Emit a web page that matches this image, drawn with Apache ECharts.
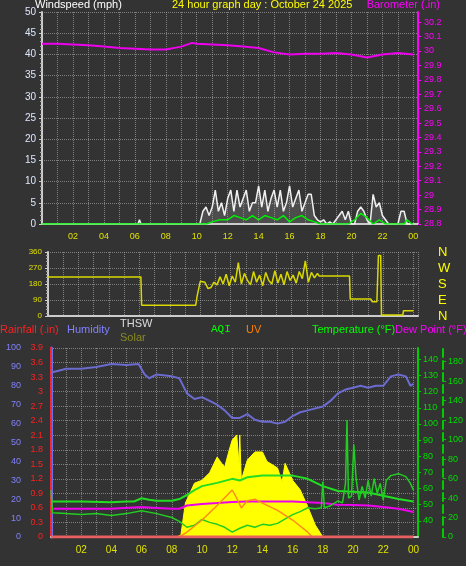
<!DOCTYPE html>
<html>
<head>
<meta charset="UTF-8">
<script src="https://cdn.jsdelivr.net/npm/echarts@6/dist/echarts.min.js"></script>
<style>html,body{margin:0;padding:0;background:#333333;}</style>
</head>
<body>
<div id="main" style="width:466px;height:566px;"></div>
<script>
// hour of day, value
var baro = [[0,30.05],[1,30.05],[2,30.045],[3,30.04],[4,30.03],[5,30.02],[6,30.015],[7,30.01],[8,30.01],[9,30.03],[9.7,30.056],[10,30.05],[11,30.045],[12,30.04],[13,30.03],[14,30.02],[15,29.99],[16,29.975],[17,29.98],[18,29.98],[19,29.985],[20,29.975],[21,29.955],[22,29.975],[23,29.985],[24,29.975]];
var gust = [[0,0],[6.2,0],[6.3,1],[6.4,0],[10.2,0],[10.4,3],[10.6,4],[10.8,2],[11,4],[11.2,8],[11.4,3],[11.6,5],[11.8,2],[12,6],[12.2,8],[12.4,3],[12.6,8],[12.8,4],[13,6],[13.2,8],[13.4,3],[13.6,5],[13.8,5],[14,9],[14.2,4],[14.4,8],[14.6,3],[14.8,6],[15,8],[15.2,4],[15.4,8],[15.6,3],[15.8,5],[16,9],[16.2,4],[16.4,6],[16.6,8],[16.8,3],[17,5],[17.2,7],[17.4,7],[17.6,2],[17.8,1],[18,0.5],[18.2,1],[18.4,0],[18.6,0.5],[18.8,0],[19.4,3],[19.6,1],[19.8,3],[20,0],[20.2,0],[20.4,3],[20.6,4],[20.8,3],[21,1],[21.2,0],[21.4,7],[21.6,4],[21.8,5],[22,2],[22.2,1],[22.4,0],[23,0],[23.2,3],[23.4,3],[23.6,0],[24,0]];
var windAvg = [[0,0],[10.6,0],[11,0.5],[11.5,1],[12,1],[12.4,2],[12.8,1.5],[13.2,1],[13.6,2],[14,1],[14.4,2],[14.8,1.5],[15.2,1],[15.6,2],[16,0.5],[16.4,1.5],[16.8,2],[17.2,1],[17.6,0.5],[18,0],[19.8,0],[20.2,1],[20.6,2.5],[21,1.5],[21.4,0],[21.8,1],[22.2,0],[23.4,0],[23.6,1],[23.9,0],[24,0]];
var windDir = [[0,220],[6.1,220],[6.15,60],[9.7,60],[9.8,115],[10,195],[10.3,190],[10.5,155],[10.7,160],[10.9,190],[11.1,175],[11.3,220],[11.5,180],[11.7,235],[11.9,170],[12.1,225],[12.3,190],[12.5,300],[12.7,180],[12.9,240],[13.1,200],[13.3,175],[13.5,250],[13.7,190],[13.9,230],[14.1,170],[14.3,245],[14.5,200],[14.7,180],[14.9,255],[15.1,185],[15.3,235],[15.5,175],[15.7,250],[15.9,200],[16.1,230],[16.3,185],[16.5,250],[16.7,210],[16.9,310],[17.1,190],[17.3,245],[17.5,215],[17.7,240],[17.8,225],[19.8,225],[19.85,95],[21.2,95],[21.3,80],[21.6,80],[21.7,340],[21.85,340],[21.9,5],[23.3,5],[23.35,30],[24,30]];
var humidity = [[0,87],[0.5,88],[1,89],[2,89],[3,90],[4,91.5],[5,91],[5.8,91.5],[6.2,86],[6.5,84],[7,86],[8,85],[8.5,84],[9,76],[9.5,73],[10,74],[10.5,72],[11,70],[11.5,67],[12,63],[12.5,63],[13,65],[13.5,62],[14,61],[14.5,61],[15,60],[15.5,61],[16,64],[16.5,66],[17,67],[18,69],[18.5,72],[19,76],[19.5,78],[20,79],[20.5,80],[21,79],[21.5,80],[22,80],[22.5,85],[23,86],[23.5,85],[23.8,80],[24,81]];
var temperature = [[0,52],[2,52],[4,51.5],[5,52],[5.5,52],[6,54],[6.5,53],[7,52.5],[8,52.5],[8.5,53.5],[9,56],[9.5,59],[10,61.5],[11,63.5],[12,66],[12.5,65],[13,67],[14,68],[15,68],[16,68],[17,66],[18,61.5],[19,58.5],[20,58],[21,57.5],[22,55.5],[23,53.5],[24,52]];
var dewPoint = [[0,47.5],[2,47.5],[4,47.5],[6,48.5],[7,48],[8,47.5],[8.5,47.5],[9,49.5],[10,50.5],[11,51],[12,51.7],[13,52],[14,52],[15,52],[16,52],[17,51.5],[18,51],[19,50],[20,49.8],[21,49.5],[22,48.6],[23,47.5],[24,45.5]];
var aqi = [[0,48],[0.1,25],[1,24],[2,23],[3,24],[4,22],[5,24],[6,27],[7,24],[8,20],[8.5,16],[9,10],[9.5,12],[10,18],[10.5,15],[11,13],[11.5,10],[12,5],[12.5,9],[13,12],[13.5,10],[14,13],[14.5,12],[15,14],[16,23],[16.5,26],[17,30],[17.5,29],[17.9,30],[18,57],[18.1,30],[18.5,32],[19,37],[19.3,35],[19.5,55],[19.6,120],[19.7,40],[19.9,42],[20.05,95],[20.2,60],[20.4,38],[20.6,52],[20.8,40],[21,58],[21.2,42],[21.4,60],[21.6,45],[21.8,55],[22,38],[22.2,58],[22.5,63],[23,65],[23.5,62],[23.8,55],[24,48]];
var solar = [[0,0],[8.3,0],[8.6,10],[8.9,180],[9.5,285],[10,300],[10.5,340],[11,423],[11.3,390],[11.5,370],[11.8,460],[12,513],[12.3,540],[12.45,380],[12.5,540],[12.6,300],[13,407],[13.5,450],[14,450],[14.3,400],[14.5,390],[15,365],[15.3,290],[15.5,390],[16,300],[16.5,250],[17,160],[17.5,63],[18,0],[24,0]];
var uv = [[0,0],[8.5,0],[9,0.1],[10,0.35],[11,0.65],[12,0.97],[12.3,0.8],[12.6,0.6],[13,0.75],[13.5,0.78],[14,0.7],[15,0.55],[16,0.35],[17,0.1],[17.3,0],[24,0]];
var rainfall = [[0,0],[24,0]];
var dirLabels = {0:'N',90:'E',180:'S',270:'W',360:'N'};

function hourLabel(v) {
    if (v > 0 && v % 2 === 0 && v <= 24) { var h = v % 24; return (h < 10 ? '0' : '') + h; }
    return '';
}
var grid = 'rgba(190,190,190,0.55)';
var font = 'Liberation Sans';

var xBase = {
    type: 'value', min: 0, max: 24.3, interval: 1,
    axisLine: {lineStyle: {color: '#cccccc', width: 2}},
    axisTick: {show: false},
    axisLabel: {color: '#e0e000', fontSize: 10, fontFamily: font, formatter: hourLabel, showMaxLabel: false}
};
function xAxis(idx, lines) {
    return Object.assign({}, xBase, {
        gridIndex: idx,
        splitLine: {show: true, lineStyle: {color: grid, type: 'dotted'}, interval: lines}
    });
}

var chart = echarts.init(document.getElementById('main'));
var option = {
    backgroundColor: '#333333',
    animation: false,
    textStyle: {fontFamily: font},
    graphic: [
        {type: 'text', left: 35, top: -1, style: {text: 'Windspeed (mph)', fill: '#ffffff', font: '11px Liberation Sans'}},
        {type: 'text', left: 172, top: -1, style: {text: '24 hour graph day : October 24 2025', fill: '#ffff00', font: '11px Liberation Sans'}},
        {type: 'text', right: 26, top: -1, style: {text: 'Barometer (.in)', fill: '#ff00ff', font: '11px Liberation Sans'}},
        {type: 'text', left: 0, top: 324, style: {text: 'Rainfall (.in)', fill: '#ff2020', font: '11px Liberation Sans'}},
        {type: 'text', left: 67, top: 324, style: {text: 'Humidity', fill: '#8080ff', font: '11px Liberation Sans'}},
        {type: 'text', left: 120, top: 318, style: {text: 'THSW', fill: '#dddddd', font: '11px Liberation Sans'}},
        {type: 'text', left: 120, top: 332, style: {text: 'Solar', fill: '#8a8a20', font: '11px Liberation Sans'}},
        {type: 'text', left: 211, top: 324, style: {text: 'AQI', fill: '#00ff00', font: '11px Liberation Mono'}},
        {type: 'text', left: 246, top: 324, style: {text: 'UV', fill: '#ff8000', font: '11px Liberation Sans'}},
        {type: 'text', left: 312, top: 324, style: {text: 'Temperature (°F)', fill: '#00ff00', font: '11px Liberation Sans'}},
        {type: 'text', left: 395, top: 324, style: {text: 'Dew Point (°F)', fill: '#ff00ff', font: '11px Liberation Sans'}}
    ],
    grid: [
        {left: 42, right: 48, top: 12, height: 212},
        {left: 48, right: 48, top: 252, height: 64},
        {left: 51, right: 47, top: 348, height: 189}
    ],
    xAxis: [
        Object.assign(xAxis(0, 1), {axisLabel: Object.assign({}, xBase.axisLabel, {fontSize: 9})}),
        Object.assign(xAxis(1, 1), {axisLabel: {show: false}}),
        xAxis(2, 0)
    ],
    yAxis: [
        {gridIndex: 0, min: 0, max: 50, interval: 5, position: 'left',
         axisLine: {show: true, lineStyle: {color: '#cccccc', width: 2}},
         axisTick: {show: true, length: 3, lineStyle: {color: '#cccccc'}},
         minorTick: {show: true, splitNumber: 5, length: 2, lineStyle: {color: '#aaaaaa'}},
         axisLabel: {color: '#dde8ff', fontSize: 10, margin: 6},
         splitLine: {lineStyle: {color: grid, type: 'dotted'}}},
        {gridIndex: 0, min: 28.8, max: 30.27, interval: 0.1, position: 'right',
         axisLine: {show: true, lineStyle: {color: '#ff00ff', width: 2}},
         axisTick: {show: true, length: 3, lineStyle: {color: '#ff00ff'}},
         axisLabel: {color: '#ff00ff', fontSize: 9, margin: 6, showMaxLabel: false,
                     formatter: function (v) { return +v.toFixed(1); }},
         splitLine: {show: false}},
        {gridIndex: 1, min: 0, max: 360, interval: 90, position: 'left',
         axisLine: {show: true, lineStyle: {color: '#cccccc', width: 2}},
         axisTick: {show: true, length: 3, lineStyle: {color: '#cccccc'}},
         minorTick: {show: true, splitNumber: 5, length: 2, lineStyle: {color: '#aaaaaa'}},
         axisLabel: {color: '#e0e000', fontSize: 8, margin: 6},
         splitLine: {lineStyle: {color: grid, type: 'dotted'}}},
        {gridIndex: 1, min: 0, max: 360, interval: 90, position: 'right', offset: 12,
         axisLine: {show: false}, axisTick: {show: false},
         axisLabel: {color: '#ffff00', fontSize: 13,
                     formatter: function (v) { return dirLabels[v]; }},
         splitLine: {show: false}},
        {gridIndex: 2, min: 0, max: 100, interval: 10, position: 'left', offset: 22,
         axisLine: {show: true, lineStyle: {color: '#7070e0', width: 3}},
         axisTick: {show: false},
         axisLabel: {color: '#8080ff', fontSize: 9, margin: 8},
         splitLine: {show: false}},
        {gridIndex: 2, min: 0, max: 3.9, interval: 0.3, position: 'left',
         axisLine: {show: true, lineStyle: {color: '#ff2020', width: 2, type: 'dotted'}},
         axisTick: {show: false},
         axisLabel: {color: '#ff2020', fontSize: 9, margin: 8, formatter: function (v) { return +v.toFixed(1); }},
         splitLine: {lineStyle: {color: grid, type: 'dotted'}}},
        {gridIndex: 2, min: 30, max: 147, interval: 10, position: 'right',
         axisLine: {show: true, lineStyle: {color: '#00cc00', width: 2}},
         axisTick: {show: true, length: 3, lineStyle: {color: '#00cc00'}},
         axisLabel: {color: '#00dd00', fontSize: 9, margin: 5, showMinLabel: false, showMaxLabel: false},
         splitLine: {show: false}},
        {gridIndex: 2, min: 0, max: 194, interval: 20, position: 'right', offset: 25,
         axisLine: {show: true, lineStyle: {color: '#00cc00', width: 2, type: 'dashed'}},
         axisTick: {show: true, length: 3, lineStyle: {color: '#00cc00'}},
         axisLabel: {color: '#00dd00', fontSize: 9, margin: 5, showMaxLabel: false},
         splitLine: {show: false}},
        {gridIndex: 2, min: 0, max: 1000, show: false}
    ],
    series: [
        {type: 'line', xAxisIndex: 0, yAxisIndex: 1, data: baro, symbol: 'none',
         lineStyle: {color: '#ee00ee', width: 2}},
        {type: 'line', xAxisIndex: 0, yAxisIndex: 0, data: gust, symbol: 'none',
         lineStyle: {color: '#f0f0f0', width: 1.5}, areaStyle: {color: 'rgba(200,200,200,0.25)'}},
        {type: 'line', xAxisIndex: 0, yAxisIndex: 0, data: windAvg, symbol: 'none',
         lineStyle: {color: '#00ee00', width: 1.5}},
        {type: 'line', xAxisIndex: 1, yAxisIndex: 2, data: windDir, symbol: 'none',
         lineStyle: {color: '#d8d800', width: 1.5}},
        {type: 'line', xAxisIndex: 2, yAxisIndex: 8, data: solar, symbol: 'none',
         lineStyle: {color: '#ffff00', width: 1}, areaStyle: {color: '#ffff00', opacity: 1}},
        {type: 'line', xAxisIndex: 2, yAxisIndex: 4, data: humidity, symbol: 'none',
         lineStyle: {color: '#6b6bd0', width: 2}},
        {type: 'line', xAxisIndex: 2, yAxisIndex: 6, data: temperature, symbol: 'none',
         lineStyle: {color: '#22dd22', width: 2}},
        {type: 'line', xAxisIndex: 2, yAxisIndex: 6, data: dewPoint, symbol: 'none',
         lineStyle: {color: '#ee00ee', width: 2}},
        {type: 'line', xAxisIndex: 2, yAxisIndex: 7, data: aqi, symbol: 'none',
         lineStyle: {color: '#22cc22', width: 1.5}},
        {type: 'line', xAxisIndex: 2, yAxisIndex: 5, data: uv, symbol: 'none',
         lineStyle: {color: '#ff8c1a', width: 1.5}},
        {type: 'line', xAxisIndex: 2, yAxisIndex: 5, data: rainfall, symbol: 'none',
         lineStyle: {color: '#e86060', width: 3}}
    ]
};
chart.setOption(option);
</script>
</body>
</html>
